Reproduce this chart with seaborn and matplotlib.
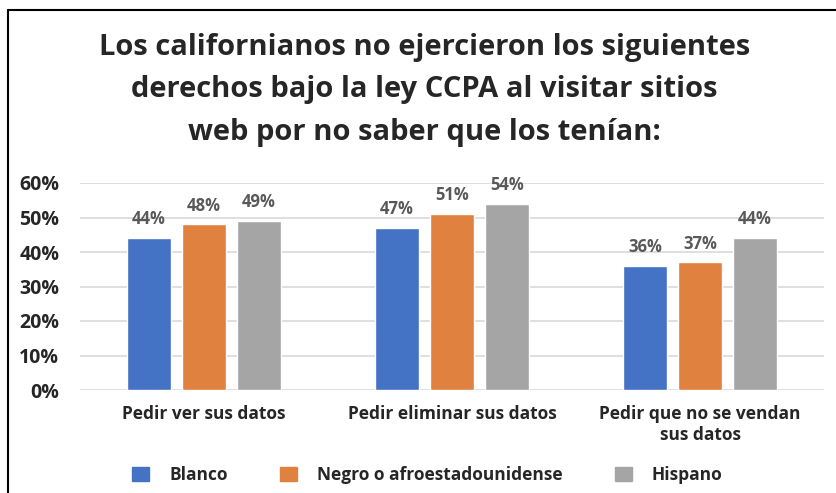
import pandas as pd
import numpy as np
import matplotlib.pyplot as plt
import matplotlib.patches as mpatches
from matplotlib.ticker import PercentFormatter
import seaborn as sns

# datos
categorias = ["Pedir ver sus datos", "Pedir eliminar sus datos", "Pedir que no se vendan\nsus datos"]
grupos = ["Blanco", "Negro o afroestadounidense", "Hispano"]
blanco = [44, 47, 36]
negro = [48, 51, 37]
hispano = [49, 54, 44]
colores = ["#4472C4", "#E0813F", "#A5A5A5"]

titulo = ["Los californianos no ejercieron los siguientes",
          "derechos bajo la ley CCPA al visitar sitios",
          "web por no saber que los tenían:"]

df = pd.DataFrame({
    "categoria": categorias * 3,
    "grupo": [grupos[0]] * 3 + [grupos[1]] * 3 + [grupos[2]] * 3,
    "valor": blanco + negro + hispano,
})

sns.set_style("white")
plt.rcParams['font.family'] = ['Open Sans', 'DejaVu Sans']

fig = plt.figure(figsize=(8.36, 4.93), dpi=100)
ax = fig.add_axes([80 / 836, 1 - 390 / 493, 744 / 836, 207 / 493])

sns.barplot(data=df, x="categoria", y="valor", hue="grupo", palette=colores,
            width=0.665, gap=0.2, ax=ax, legend=False, saturation=1)

for cont in ax.containers:
    ax.bar_label(cont, labels=[f"{v:.0f}%" for v in cont.datavalues],
                 padding=7, color="#595959", fontsize=12, fontweight="bold")

ax.set_ylim(0, 60)
ax.set_xlim(-0.5, 2.5)
ax.set_yticks(np.arange(0, 61, 10))
ax.yaxis.set_major_formatter(PercentFormatter(decimals=0))
ax.grid(axis="y", color="#D9D9D9", linewidth=1.2)
ax.set_axisbelow(True)
for s in ax.spines.values():
    s.set_visible(False)
ax.tick_params(axis="both", length=0)
ax.tick_params(axis="y", labelsize=14, pad=15)
ax.tick_params(axis="x", labelsize=12.5, pad=11)
for t in ax.get_yticklabels() + ax.get_xticklabels():
    t.set_fontweight("bold")
ax.set_xlabel("")
ax.set_ylabel("")

# titulo linea por linea
for i, linea in enumerate(titulo):
    fig.text(0.508, 1 - (55 + 42.5 * i) / 493, linea, ha="center", va="baseline",
             fontsize=21, fontweight="bold")

handles = [mpatches.Patch(color=c, label=g) for c, g in zip(colores, grupos)]
fig.legend(handles=handles, loc="center", bbox_to_anchor=(0.511, 0.037), ncol=3,
           frameon=False, handlelength=1.0, handleheight=0.9, handletextpad=1.15,
           columnspacing=3.0, borderaxespad=0, prop={"size": 12.5, "weight": "bold"})

# marco parcial (izquierda y arriba)
fig.add_artist(plt.Line2D([8 / 836, 8 / 836], [0, 1 - 10 / 493], color="black", lw=1.5))
fig.add_artist(plt.Line2D([8 / 836, 1], [1 - 10 / 493, 1 - 10 / 493], color="black", lw=1.5))

fig.savefig("out.png", dpi=100)
